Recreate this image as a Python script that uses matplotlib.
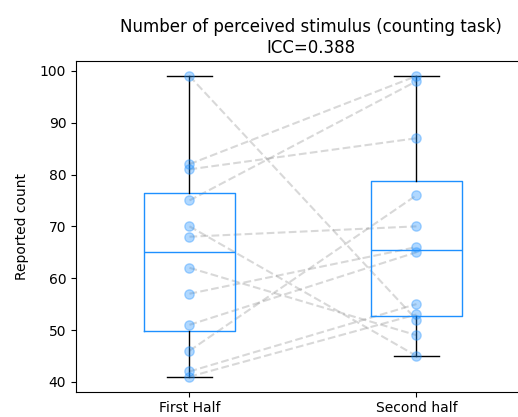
import numpy as np
import matplotlib
matplotlib.use("Agg")
import matplotlib.pyplot as plt

# paired counts (same subject in both halves)
first_half = [99, 82, 81, 75, 70, 68, 62, 57, 51, 46, 42, 41]
second_half = [52, 99, 87, 98, 45, 70, 49, 66, 65, 76, 55, 53]
labels = ["First Half", "Second half"]
icc = 0.388

fig = plt.figure(figsize=(5.18, 4.17), dpi=100)
# the right side of the axes runs off the canvas, as in the reference
ax = fig.add_axes([0.1467, 0.0607, 0.907, 0.793])

# connecting lines
for a, b in zip(first_half, second_half):
    ax.plot([1, 2], [a, b], linestyle="--", color="gray", alpha=0.3, linewidth=1.5, zorder=1)

blue = "#1E90FF"
ax.boxplot([first_half, second_half], positions=[1, 2], widths=0.4, showfliers=False,
           boxprops=dict(color=blue), medianprops=dict(color=blue),
           whiskerprops=dict(color="black"), capprops=dict(color="black"))

ax.scatter(np.ones(len(first_half)), first_half, color=blue, alpha=0.35, s=45, zorder=3)
ax.scatter(np.full(len(second_half), 2), second_half, color=blue, alpha=0.35, s=45, zorder=3)

ax.set_xticks([1, 2])
ax.set_xticklabels(labels)
ax.set_xlim(0.5, 2.57)
ax.set_ylabel("Reported count", labelpad=8)
ax.set_title("Number of perceived stimulus (counting task)\nICC=%.3f" % icc)

fig.savefig("out.png", dpi=100)
